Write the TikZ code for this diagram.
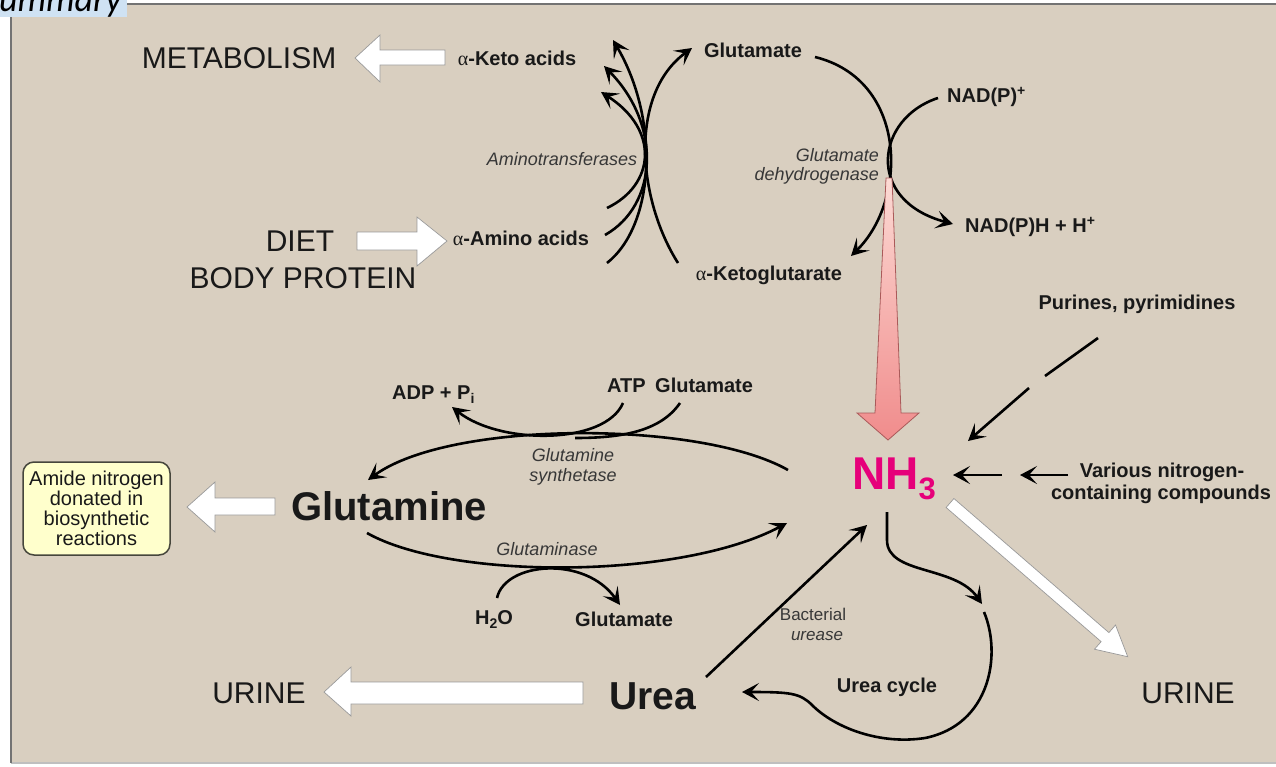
\documentclass[tikz,border=0pt]{standalone}
\usepackage{fontspec}
\setmainfont{Liberation Sans}
\newfontfamily\grk{Liberation Serif}
\newfontfamily\carl{Carlito}
\usetikzlibrary{arrows.meta,calc}
\newcommand{\myfs}[1]{\fontsize{#1}{#1}\selectfont}
\definecolor{bg}{RGB}{217,207,192}
\definecolor{ttlbg}{RGB}{207,226,243}
\definecolor{txt}{RGB}{25,25,25}
\definecolor{enz}{RGB}{55,55,55}
\definecolor{nhc}{RGB}{230,0,122}
\definecolor{boxfill}{RGB}{255,255,204}
\definecolor{boxline}{RGB}{70,70,60}
\definecolor{pinktop}{RGB}{252,218,212}
\definecolor{pinkbot}{RGB}{240,140,140}
\definecolor{pinkline}{RGB}{170,90,90}
\begin{document}
\begin{tikzpicture}[x=1pt,y=-1pt,
  big/.style={font=\myfs{30}, text=txt, inner sep=0},
  lbl/.style={font=\bfseries\myfs{20}, text=txt, inner sep=0},
  enzl/.style={font=\itshape\myfs{18}, text=enz, inner sep=0},
  huge/.style={font=\bfseries\myfs{40}, text=txt, inner sep=0},
  arr/.style={line width=2.6pt, -{Stealth[length=17pt,width=18pt,inset=8pt]}},
  plain/.style={line width=2.6pt},
  wblk/.style={fill=white, draw=black!40, line width=0.7pt, line join=miter},
]
\useasboundingbox (0,0) rectangle (1276,766);
\fill[white] (0,0) rectangle (1276,766);
% panel
\fill[bg] (10,3) rectangle (1276,763);
\draw[black!25, line width=1.2pt] (11,763) -- (1276,763);
\draw[black!55, line width=2.4pt] (1276,4) -- (11,4) -- (11,763);
% title fragment
\fill[ttlbg] (0,-5) rectangle (127,17);
\node[anchor=base east, font=\carl\itshape\myfs{36}, text=black, inner sep=0] (ttl) at (122,11) {ummary};

% ---------------- top part ----------------
\node[big, anchor=base] (meta) at (239,68) {METABOLISM};
\node[lbl, anchor=base] (keto) at (517,65) {{\grk\mdseries α}-Keto acids};
\node[lbl, anchor=base] (glu1) at (753,57) {Glutamate};
\node[enzl, anchor=base] (amt) at (562,165) {Aminotransferases};
\node[lbl, anchor=base] (amino) at (521,245) {{\grk\mdseries α}-Amino acids};
\node[lbl, anchor=base] (akg) at (769,280) {{\grk\mdseries α}-Ketoglutarate};
\node[enzl, anchor=base east] (gdh1) at (879,161) {Glutamate};
\node[enzl, anchor=base east] (gdh2) at (879,180) {dehydrogenase};
\node[lbl, anchor=base west] (nadp) at (947,102) {NAD(P)\raisebox{7pt}{\myfs{14}+}};
\node[lbl, anchor=base west] (nadph) at (965,232) {NAD(P)H + H\raisebox{7pt}{\myfs{14}+}};
\node[lbl, anchor=base] (pur) at (1137,309) {Purines, pyrimidines};
\node[big, anchor=base] (diet) at (300,251) {DIET};
\node[big, anchor=base] (body) at (303,288) {BODY PROTEIN};

% block arrows top
\draw[wblk] (445,50) -- (380,50) -- (380,35) -- (355,58) -- (380,82) -- (380,65) -- (445,65) -- cycle;
\draw[wblk] (357,232) -- (417,232) -- (417,217) -- (447,241) -- (417,266) -- (417,250) -- (357,250) -- cycle;

% aminotransferase curves
\coordinate (a1s) at (678,263); \coordinate (a1e) at (692,48);
\draw[arr] (a1s) .. controls (638,200) and (628,95) .. (a1e);
\coordinate (b1s) at (607,263); \coordinate (b1e) at (613,40);
\coordinate (b2s) at (605,235); \coordinate (b2e) at (604,66);
\coordinate (b3s) at (607,208); \coordinate (b3e) at (601,92);
\draw[arr] (b1s) .. controls (655,225) and (660,120) .. (b1e);
\draw[arr] (b2s) .. controls (658,205) and (662,125) .. (b2e);
\draw[arr] (b3s) .. controls (655,185) and (660,130) .. (b3e);

% glutamate dehydrogenase
\coordinate (g1s) at (815,57); \coordinate (g1e) at (851,256);
\draw[arr] (g1s) .. controls (908,80) and (908,200) .. (g1e);
\coordinate (n1s) at (938,98); \coordinate (n1e) at (953,224);
\draw[arr] (n1s) .. controls (876,118) and (864,200) .. (n1e);

% pink arrow
\path[draw=pinkline, line width=0.8pt, top color=pinktop, bottom color=pinkbot, line join=miter]
  (886,178) -- (892,178) -- (901,413) -- (919,413) -- (888,440) -- (857,413) -- (875,413) -- cycle;

% ---------------- NH3 ----------------
\node[anchor=base west, font=\bfseries\myfs{46}, text=nhc, inner sep=0] (nh3) at (852,489) {NH\raisebox{-10pt}{\myfs{31}3}};

% purines arrows
\coordinate (p1s) at (1098,338); \coordinate (p1e) at (1045,376);
\coordinate (p2s) at (1029,388); \coordinate (p2e) at (968,441);
\draw[plain] (p1s) -- (p1e);
\draw[arr] (p2s) -- (p2e);

% various
\node[lbl, anchor=base] (var1) at (1162,477) {Various nitrogen-};
\node[lbl, anchor=base] (var2) at (1161,499) {containing compounds};
\coordinate (v1s) at (1068,475); \coordinate (v1e) at (1020,475);
\coordinate (v2s) at (1002,475); \coordinate (v2e) at (953,475);
\draw[arr] (v1s) -- (v1e);
\draw[arr] (v2s) -- (v2e);

% white arrow to urine right
\draw[wblk] (953.9,498.5) -- (1108.9,632.6) -- (1115.5,625.0) -- (1127.7,656.7) -- (1094.5,649.2) -- (1101.1,641.6) -- (946.1,507.5) -- cycle;
\node[big, anchor=base] (urine2) at (1188,703) {URINE};

% ---------------- glutamine part ----------------
\node[lbl, anchor=base west] (adp) at (392,399) {ADP + P\raisebox{-4pt}{\myfs{14}i}};
\node[lbl, anchor=base west] (atp) at (607,392) {ATP};
\node[lbl, anchor=base west] (glu2) at (655,392) {Glutamate};
\node[enzl, anchor=base] (gs1) at (573,461) {Glutamine};
\node[enzl, anchor=base] (gs2) at (573,481) {synthetase};
\node[huge, anchor=base] (gln) at (389,520) {Glutamine};
\node[enzl, anchor=base] (gase) at (547,555) {Glutaminase};
\node[lbl, anchor=base west] (h2o) at (475,624) {H\raisebox{-4pt}{\myfs{14}2}O};
\node[lbl, anchor=base west] (glu3) at (575,626) {Glutamate};

\node[draw=boxline, line width=1.5pt, fill=boxfill, rounded corners=11pt,
      minimum width=147pt, minimum height=93pt, inner sep=0, align=center,
      font=\myfs{20}, text=txt] (amide) at (96.5,508.5)
  {\fontsize{20}{19.6}\selectfont Amide nitrogen\\donated in\\biosynthetic\\reactions};

\draw[wblk] (275,498) -- (215,498) -- (215,482) -- (187,507) -- (215,532) -- (215,515) -- (275,515) -- cycle;

\coordinate (gss) at (788,470); \coordinate (gse) at (368,480);
\draw[arr] (gss) .. controls (700,420) and (450,420) .. (gse);
\coordinate (atps) at (623,403); \coordinate (adpe) at (452,407);
\draw[arr] (atps) .. controls (605,445) and (500,445) .. (adpe);
\coordinate (glus) at (680,403); \coordinate (glue) at (575,438);
\draw[plain] (glus) .. controls (660,432) and (620,438) .. (glue);

\coordinate (gas) at (367,533); \coordinate (gae) at (787,523);
\draw[arr] (gas) .. controls (450,580) and (680,580) .. (gae);
\coordinate (hs) at (497,598); \coordinate (he) at (620,605);
\draw[arr] (hs) .. controls (505,562) and (585,555) .. (he);

% ---------------- urea part ----------------
\node[big, anchor=base] (urine1) at (259,703) {URINE};
\node[huge, font=\bfseries\myfs{39}, anchor=base] (urea) at (653,709) {Urea};
\node[lbl, anchor=base] (ucyc) at (887,692) {Urea cycle};
\node[font=\myfs{17}, text=enz, inner sep=0, anchor=base] (bact) at (813,620) {Bacterial};
\node[font=\itshape\myfs{17}, text=enz, inner sep=0, anchor=base] (ure) at (817,640) {urease};

\draw[wblk] (583,682) -- (351,682) -- (351,667) -- (324,692) -- (351,716) -- (351,704) -- (583,704) -- cycle;

\coordinate (bus) at (706,677); \coordinate (bue) at (867,525);
\draw[arr] (bus) -- (bue);

\coordinate (u1s) at (887,512); \coordinate (u1e) at (982,604);
\draw[arr] (u1s) -- (887,540) .. controls (887,575) and (955,565) .. (u1e);
\coordinate (u2s) at (984,612); \coordinate (u2e) at (742,692);
\draw[arr] (u2s) .. controls (1002,655) and (990,725) .. (925,738)
  .. controls (880,745) and (835,728) .. (812,705)
  .. controls (800,693) and (790,692) .. (u2e);
\end{tikzpicture}
\end{document}
